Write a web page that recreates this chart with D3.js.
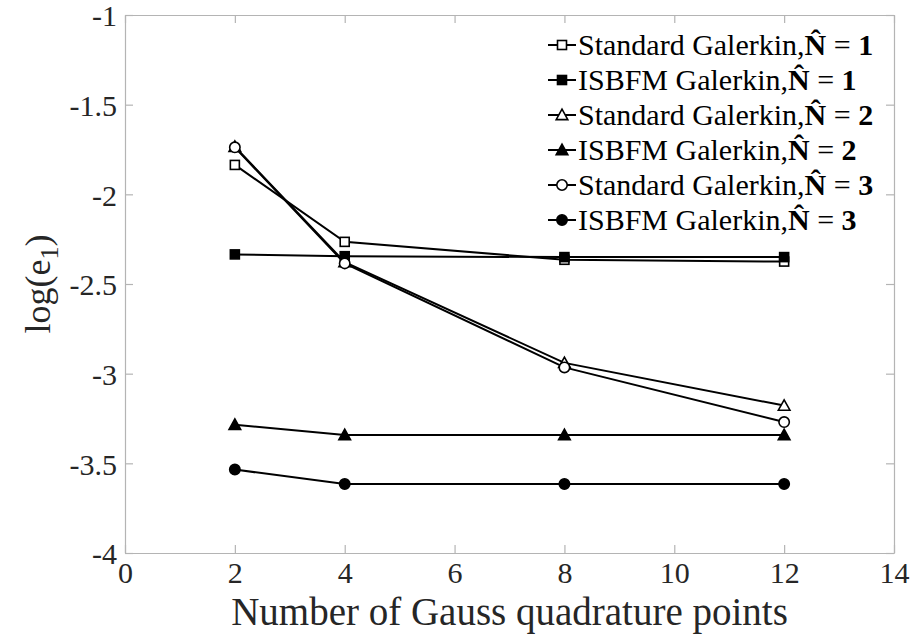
<!DOCTYPE html>
<html>
<head>
<meta charset="utf-8">
<script src="https://cdn.jsdelivr.net/npm/d3@7"></script>
<style>
  html, body { margin: 0; padding: 0; background: #fff; }
  svg { display: block; }
</style>
</head>
<body>
<svg id="chart" width="922" height="634"></svg>
<script>
// Number of Gauss quadrature points
const gaussPoints = [2, 4, 8, 12];

// log(e1) per method / basis order
const stdN1 = [-1.836, -2.265, -2.365, -2.375];
const isbN1 = [-2.335, -2.345, -2.350, -2.350];
const stdN2 = [-1.735, -2.378, -2.940, -3.178];
const isbN2 = [-3.285, -3.342, -3.342, -3.342];
const stdN3 = [-1.738, -2.385, -2.965, -3.270];
const isbN3 = [-3.535, -3.615, -3.615, -3.615];

const xTicks = [0, 2, 4, 6, 8, 10, 12, 14];
const yTicks = [-4, -3.5, -3, -2.5, -2, -1.5, -1];

const seriesDefs = [
  { method: "Standard Galerkin,", n: "1", values: stdN1, shape: "square", filled: false },
  { method: "ISBFM Galerkin,",    n: "1", values: isbN1, shape: "square", filled: true },
  { method: "Standard Galerkin,", n: "2", values: stdN2, shape: "triangle", filled: false },
  { method: "ISBFM Galerkin,",    n: "2", values: isbN2, shape: "triangle", filled: true },
  { method: "Standard Galerkin,", n: "3", values: stdN3, shape: "circle", filled: false },
  { method: "ISBFM Galerkin,",    n: "3", values: isbN3, shape: "circle", filled: true }
];

const svg = d3.select("#chart");
const plot = { left: 125, right: 894, top: 15, bottom: 553 };
const axisColor = "#b4b4b4";
const textColor = "#262626";
const serif = "'Liberation Serif', 'Times New Roman', serif";

const x = d3.scaleLinear().domain([0, 14]).range([plot.left, plot.right]);
const y = d3.scaleLinear().domain([-4, -1]).range([plot.bottom, plot.top]);

// Axes with inward ticks on all four sides
const tickLen = 8;
const axBottom = svg.append("g").attr("transform", `translate(0,${plot.bottom})`)
  .call(d3.axisBottom(x).tickValues(xTicks).tickSizeInner(-tickLen).tickSizeOuter(0).tickPadding(9).tickFormat(d3.format("d")));
const axTop = svg.append("g").attr("transform", `translate(0,${plot.top})`)
  .call(d3.axisTop(x).tickValues(xTicks).tickSizeInner(-tickLen).tickSizeOuter(0).tickFormat(""));
const axLeft = svg.append("g").attr("transform", `translate(${plot.left},0)`)
  .call(d3.axisLeft(y).tickValues(yTicks).tickSizeInner(-tickLen).tickSizeOuter(0).tickPadding(8).tickFormat(d => String(d)));
const axRight = svg.append("g").attr("transform", `translate(${plot.right},0)`)
  .call(d3.axisRight(y).tickValues(yTicks).tickSizeInner(-tickLen).tickSizeOuter(0).tickFormat(""));

[axBottom, axTop, axLeft, axRight].forEach(g => {
  g.select(".domain").attr("stroke", axisColor).attr("stroke-width", 1.2);
  g.selectAll(".tick line").attr("stroke", axisColor).attr("stroke-width", 1.2);
  g.selectAll(".tick text").attr("fill", textColor)
    .style("font-family", serif).style("font-size", "30px");
});
axBottom.selectAll(".tick text").attr("dy", "0.71em");
axLeft.selectAll(".tick text").attr("dy", "0.36em");

// Axis titles
svg.append("text")
  .attr("x", (plot.left + plot.right) / 2)
  .attr("y", 625)
  .attr("text-anchor", "middle")
  .attr("fill", textColor)
  .style("font-family", serif).style("font-size", "39px")
  .text("Number of Gauss quadrature points");

const yTitle = svg.append("text")
  .attr("transform", `translate(50,${(plot.top + plot.bottom) / 2}) rotate(-90)`)
  .attr("text-anchor", "middle")
  .attr("fill", textColor)
  .style("font-family", serif).style("font-size", "36px");
yTitle.append("tspan").text("log(e");
yTitle.append("tspan").attr("dy", 8).style("font-size", "26px").text("1");
yTitle.append("tspan").attr("dy", -8).text(")");

// Marker drawing
function drawMarker(g, shape, filled, cx, cy) {
  const fill = filled ? "#000" : "#fff";
  if (shape === "square") {
    g.append("rect").attr("x", cx - 4.5).attr("y", cy - 4.5).attr("width", 9).attr("height", 9)
      .attr("fill", fill).attr("stroke", "#000").attr("stroke-width", 1.6);
  } else if (shape === "circle") {
    g.append("circle").attr("cx", cx).attr("cy", cy).attr("r", 5.2)
      .attr("fill", fill).attr("stroke", "#000").attr("stroke-width", 1.6);
  } else {
    const s = 5.8;
    g.append("path")
      .attr("d", `M${cx},${cy - s} L${cx + s},${cy + s * 0.8} L${cx - s},${cy + s * 0.8} Z`)
      .attr("fill", fill).attr("stroke", "#000").attr("stroke-width", 1.6).attr("stroke-linejoin", "miter");
  }
}

// Series lines and markers
const line = d3.line().x(d => x(d[0])).y(d => y(d[1]));
seriesDefs.forEach(s => {
  const pts = gaussPoints.map((g, i) => [g, s.values[i]]);
  const g = svg.append("g");
  g.append("path").datum(pts).attr("d", line)
    .attr("fill", "none").attr("stroke", "#000").attr("stroke-width", 2);
  pts.forEach(p => drawMarker(g, s.shape, s.filled, x(p[0]), y(p[1])));
});

// Legend
const legend = svg.append("g");
const legX0 = 548, legX1 = 576, rowY0 = 45, rowStep = 35;
seriesDefs.forEach((s, i) => {
  const cy = rowY0 + i * rowStep;
  const row = legend.append("g");
  row.append("line").attr("x1", legX0).attr("x2", legX1).attr("y1", cy).attr("y2", cy)
    .attr("stroke", "#000").attr("stroke-width", 2);
  drawMarker(row, s.shape, s.filled, (legX0 + legX1) / 2, cy);
  const t = row.append("text").attr("x", legX1 + 2).attr("y", cy + 10)
    .attr("fill", "#000")
    .style("font-family", serif).style("font-size", "30px");
  t.append("tspan").text(s.method);
  t.append("tspan").style("font-weight", "bold").text("N\u0302");
  t.append("tspan").text(" = ");
  t.append("tspan").style("font-weight", "bold").text(s.n);
});
</script>
</body>
</html>
